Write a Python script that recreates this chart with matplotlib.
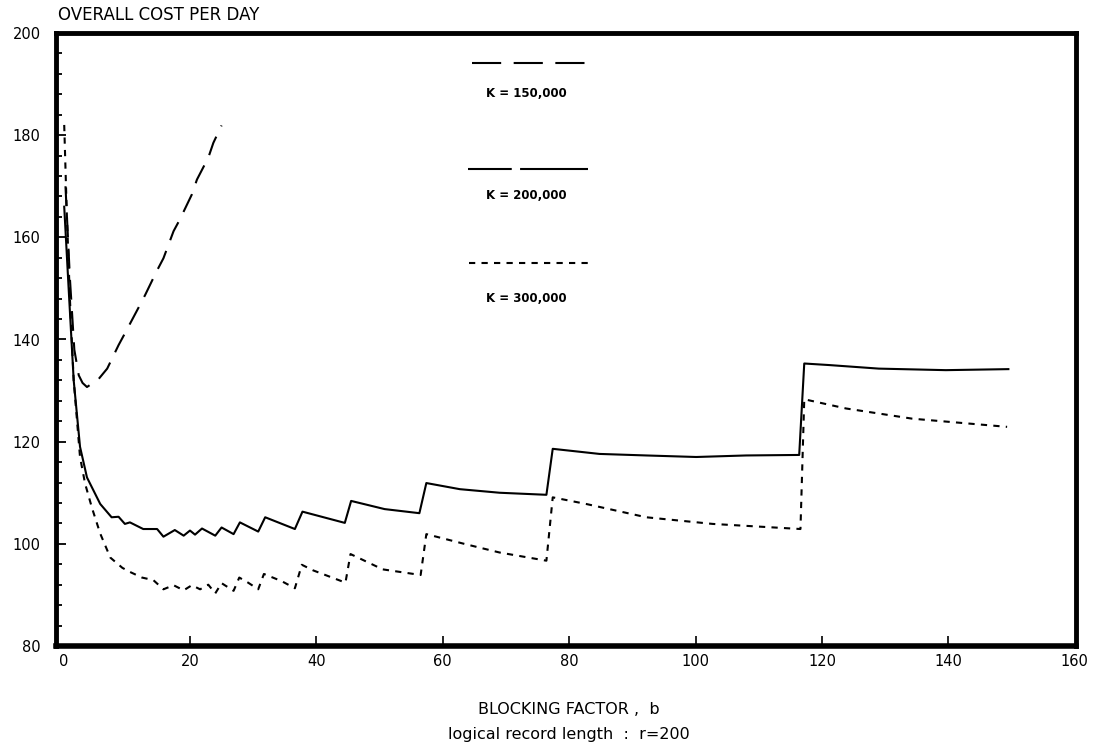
import matplotlib
matplotlib.use('Agg')
import matplotlib.pyplot as plt
from matplotlib.ticker import MultipleLocator

# Blocking factor b vs overall cost per day
k150_b = [0.3, 1.0, 1.7, 2.4, 3.0, 3.7, 5.5, 6.9, 8.7, 9.7, 11.8,
          12.9, 14.7, 15.8, 17.4, 18.4, 20.3, 21.1, 22.9, 23.7, 25.0]
k150_cost = [170, 152, 138, 133, 131.5, 130.7, 132.2, 134.3, 138.9, 141.2, 146.1,
             148.7, 153.3, 155.9, 161.2, 163.5, 168.4, 171.3, 175.6, 178.5, 181.9]

k200_b = [0.1, 0.8, 1.6, 2.6, 3.7, 5.8, 7.6, 8.7, 9.7, 10.5,
          12.6, 14.8, 15.8, 17.6, 19.0, 20.0, 20.8, 21.9, 24.0, 25.0,
          26.9, 27.9, 30.8, 31.9, 36.6, 37.8, 44.5, 45.5, 50.8, 56.3,
          57.4, 62.7, 69.0, 76.4, 77.4, 84.8, 92.2, 100.1, 108.0, 116.4,
          117.2, 121.1, 129.0, 139.6, 149.5]
k200_cost = [166, 150, 132, 119, 113, 107.8, 105.2, 105.3, 103.9, 104.2,
             102.9, 102.9, 101.4, 102.7, 101.6, 102.6, 101.8, 103.0, 101.6, 103.2,
             101.9, 104.2, 102.4, 105.2, 102.9, 106.3, 104.1, 108.4, 106.8, 106.0,
             111.9, 110.7, 110.0, 109.6, 118.6, 117.6, 117.3, 117.0, 117.3, 117.4,
             135.3, 135.0, 134.3, 134.0, 134.2]

k300_b = [0.1, 0.5, 1.0, 1.6, 2.6, 3.4, 4.5, 5.8, 7.4, 9.3,
          10.5, 12.4, 14.2, 15.8, 17.4, 19.0, 20.3, 21.6, 22.9, 24.0,
          25.0, 26.9, 27.8, 29.2, 30.8, 31.7, 34.5, 36.6, 37.7, 39.5,
          44.6, 45.4, 50.5, 56.5, 57.4, 63.7, 69.0, 76.4, 77.4, 82.7,
          92.2, 102.7, 116.6, 117.2, 123.8, 134.3, 149.3]
k300_cost = [182, 165, 148, 132, 117, 111.8, 107, 102, 97.3, 95.3,
             94.5, 93.4, 92.9, 91.1, 91.9, 90.9, 91.9, 91.1, 92.0, 90.3,
             92.3, 90.8, 93.4, 92.4, 91.1, 94.1, 92.7, 91.3, 95.9, 94.8,
             92.4, 98.0, 95.0, 93.9, 101.9, 99.9, 98.3, 96.7, 109.1, 107.8,
             105.2, 103.9, 102.9, 128.3, 126.5, 124.5, 122.9]

x_ticks = [0, 20, 40, 60, 80, 100, 120, 140, 160]
y_ticks = [80, 100, 120, 140, 160, 180, 200]
legend_labels = ['K = 150,000', 'K = 200,000', 'K = 300,000']

fig = plt.figure(figsize=(10.94, 7.44), dpi=100)
ax = fig.add_axes([56 / 1094, 1 - 646 / 744, 1020 / 1094, 613 / 744])

lw = 1.5
dash_150 = (0, (9.5, 5.5))
dash_200 = '-'
dash_300 = (0, (3, 3))

ax.plot(k150_b, k150_cost, color='black', lw=lw, linestyle=dash_150)
ax.plot(k200_b, k200_cost, color='black', lw=lw, linestyle=dash_200)
ax.plot(k300_b, k300_cost, color='black', lw=lw, linestyle=dash_300)

# legend drawn by hand, line above its label like the original
ax.plot([0.4075, 0.5203], [0.9506, 0.9506], transform=ax.transAxes,
        color='black', lw=lw, linestyle=(0, (14, 6)))
ax.plot([0.4039, 0.5216], [0.7777, 0.7777], transform=ax.transAxes,
        color='black', lw=lw, linestyle=(0, (21, 4, 40, 4)))
ax.plot([0.4049, 0.5252], [0.6253, 0.6253], transform=ax.transAxes,
        color='black', lw=lw, linestyle=(0, (3, 3)))
for label, ty in zip(legend_labels, [0.9016, 0.7341, 0.5672]):
    ax.text(0.4615, ty, label, transform=ax.transAxes, ha='center', va='center',
            fontsize=8.5, fontweight='bold')

ax.set_xlim(-1.2, 160.2)
ax.set_ylim(80, 200)
ax.set_xticks(x_ticks)
ax.set_yticks(y_ticks)
ax.yaxis.set_minor_locator(MultipleLocator(4))

ax.tick_params(axis='y', which='major', direction='in', length=7, width=1.3,
               pad=11, labelsize=10.5)
ax.tick_params(axis='y', which='minor', direction='in', length=4, width=1.3)
ax.tick_params(axis='x', which='major', direction='in', length=7, width=1.2,
               pad=6, labelsize=10.5)
for t in [ax.xaxis.get_major_ticks()[0], ax.xaxis.get_major_ticks()[-1]]:
    t.tick1line.set_visible(False)

for side in ['left', 'right', 'top']:
    ax.spines[side].set_linewidth(3.5)
ax.spines['bottom'].set_linewidth(4)

fig.text(58 / 1094, 1 - 15 / 744, 'OVERALL COST PER DAY', fontsize=12,
         ha='left', va='center')
fig.text(569 / 1094, 1 - 710 / 744, 'BLOCKING FACTOR ,  b', fontsize=11.5,
         ha='center', va='center')
fig.text(569 / 1094, 1 - 735 / 744, 'logical record length  :  r=200', fontsize=11.5,
         ha='center', va='center')

plt.savefig('out.png', dpi=100)
